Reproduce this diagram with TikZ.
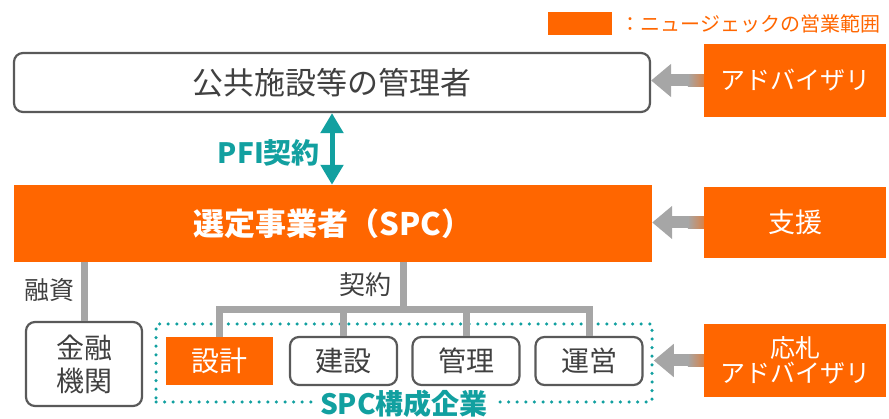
\documentclass[tikz,border=0pt]{standalone}
\usepackage{fontspec}
\setmainfont{Noto Sans CJK JP}
\usetikzlibrary{arrows.meta,calc}

\definecolor{ncorange}{HTML}{FF6600}
\definecolor{linegray}{HTML}{A6A6A6}
\definecolor{boxgray}{HTML}{595959}
\definecolor{textgray}{HTML}{404040}
\definecolor{spcteal}{HTML}{12A0A0}

\begin{document}
\begin{tikzpicture}[x=1pt, y=-1pt,
    roundbox/.style={draw=boxgray, line width=2.2pt, rounded corners=9pt, text=textgray, align=center, inner sep=0pt},
    orangebox/.style={fill=ncorange, text=white, align=center, inner sep=0pt},
    smallbox/.style={minimum width=107pt, minimum height=48pt, font=\fontsize{28}{30}\selectfont},
    link/.style={draw=linegray, line width=7pt, line join=miter},
    advarrow/.style={draw=linegray, line width=12pt, -{Triangle[length=20pt,width=32pt]}},
    pfiarrow/.style={draw=spcteal, line width=5pt, {Triangle[length=20pt,width=22pt]}-{Triangle[length=20pt,width=22pt]}},
    graylabel/.style={text=textgray, inner sep=0pt, font=\fontsize{25}{27}\selectfont}
]
    % 1. Frame
    \useasboundingbox (0,0) rectangle (889,419);

    % 2. Legend
    \node[orangebox, minimum width=64pt, minimum height=23pt] (legend) at (580,23.5) {};
    \node[right=8pt, inner sep=0pt, text=ncorange, font=\fontsize{20}{22}\selectfont] (legendtext) at (legend.east) {：ニュージェックの営業範囲};

    % 3. Main boxes
    \node[roundbox, minimum width=636pt, minimum height=59pt, font=\fontsize{31}{33}\selectfont] (mgr) at (332,82.5) {公共施設等の管理者};
    \node[orangebox, minimum width=638pt, minimum height=77pt, font=\fontsize{31}{33}\selectfont\bfseries] (spc) at (333,223.5) {選定事業者（SPC）};

    % Advisory boxes on the right
    \node[orangebox, minimum width=182pt, minimum height=73pt, font=\fontsize{25}{27}\selectfont] (adv1) at (795,80.5) {アドバイザリ};
    \node[orangebox, minimum width=182pt, minimum height=71pt, font=\fontsize{27}{29}\selectfont] (adv2) at (795,222.5) {支援};
    \node[orangebox, minimum width=182pt, minimum height=73pt, font=\fontsize{25}{25}\selectfont] (adv3) at (795,360.5) {応札\\アドバイザリ};

    % 4. Lower boxes
    \node[roundbox, minimum width=116pt, minimum height=84pt, font=\fontsize{28}{33}\selectfont] (bank) at (84,364) {金融\\機関};
    \node[draw=spcteal, line width=3.5pt, dash pattern=on 0pt off 8.6pt, line cap=round,
          minimum width=496pt, minimum height=78pt] (team) at (404,363) {};
    \node[orangebox, smallbox] (sekkei) at (219.5,361) {設計};
    \node[roundbox, smallbox] (kensetsu) at (343.5,361) {建設};
    \node[roundbox, smallbox] (kanri) at (466,361) {管理};
    \node[roundbox, smallbox] (unei) at (589,361) {運営};
    \node[fill=white, inner xsep=7pt, inner ysep=0pt, text=spcteal, font=\fontsize{28}{30}\selectfont\bfseries] (teamlabel) at (team.south) {SPC構成企業};

    % 5. Connectors
    \draw[pfiarrow] (mgr.south) -- (mgr.south |- spc.north);
    \node[anchor=east, inner sep=0pt, text=spcteal, font=\fontsize{28}{30}\selectfont\bfseries] (pfi) at (320,153) {PFI契約};

    \draw[link] (bank.north |- spc.south) -- (bank.north);
    \node[graylabel] (yushi) at (49,290) {融資};

    \coordinate (hub) at (403,310);
    \draw[link] (hub |- spc.south) -- (hub);
    \draw[link] (sekkei.north) -- (sekkei.north |- hub) -- (unei.north |- hub) -- (unei.north);
    \draw[link] (kensetsu.north) -- (kensetsu.north |- hub);
    \draw[link] (kanri.north) -- (kanri.north |- hub);
    \node[graylabel, font=\fontsize{26}{28}\selectfont] (keiyaku) at (365,285) {契約};

    % Gray arrows from the advisory boxes
    \foreach \a/\b in {adv1/mgr, adv2/spc, adv3/team} {
        \draw[advarrow] (\a.west) -- (\a.west -| \b.east);
        \shade[left color=linegray, right color=ncorange!55!linegray]
            ($(\a.west)+(-16,-6)$) rectangle ($(\a.west)+(0,6)$);
    }
\end{tikzpicture}
\end{document}
